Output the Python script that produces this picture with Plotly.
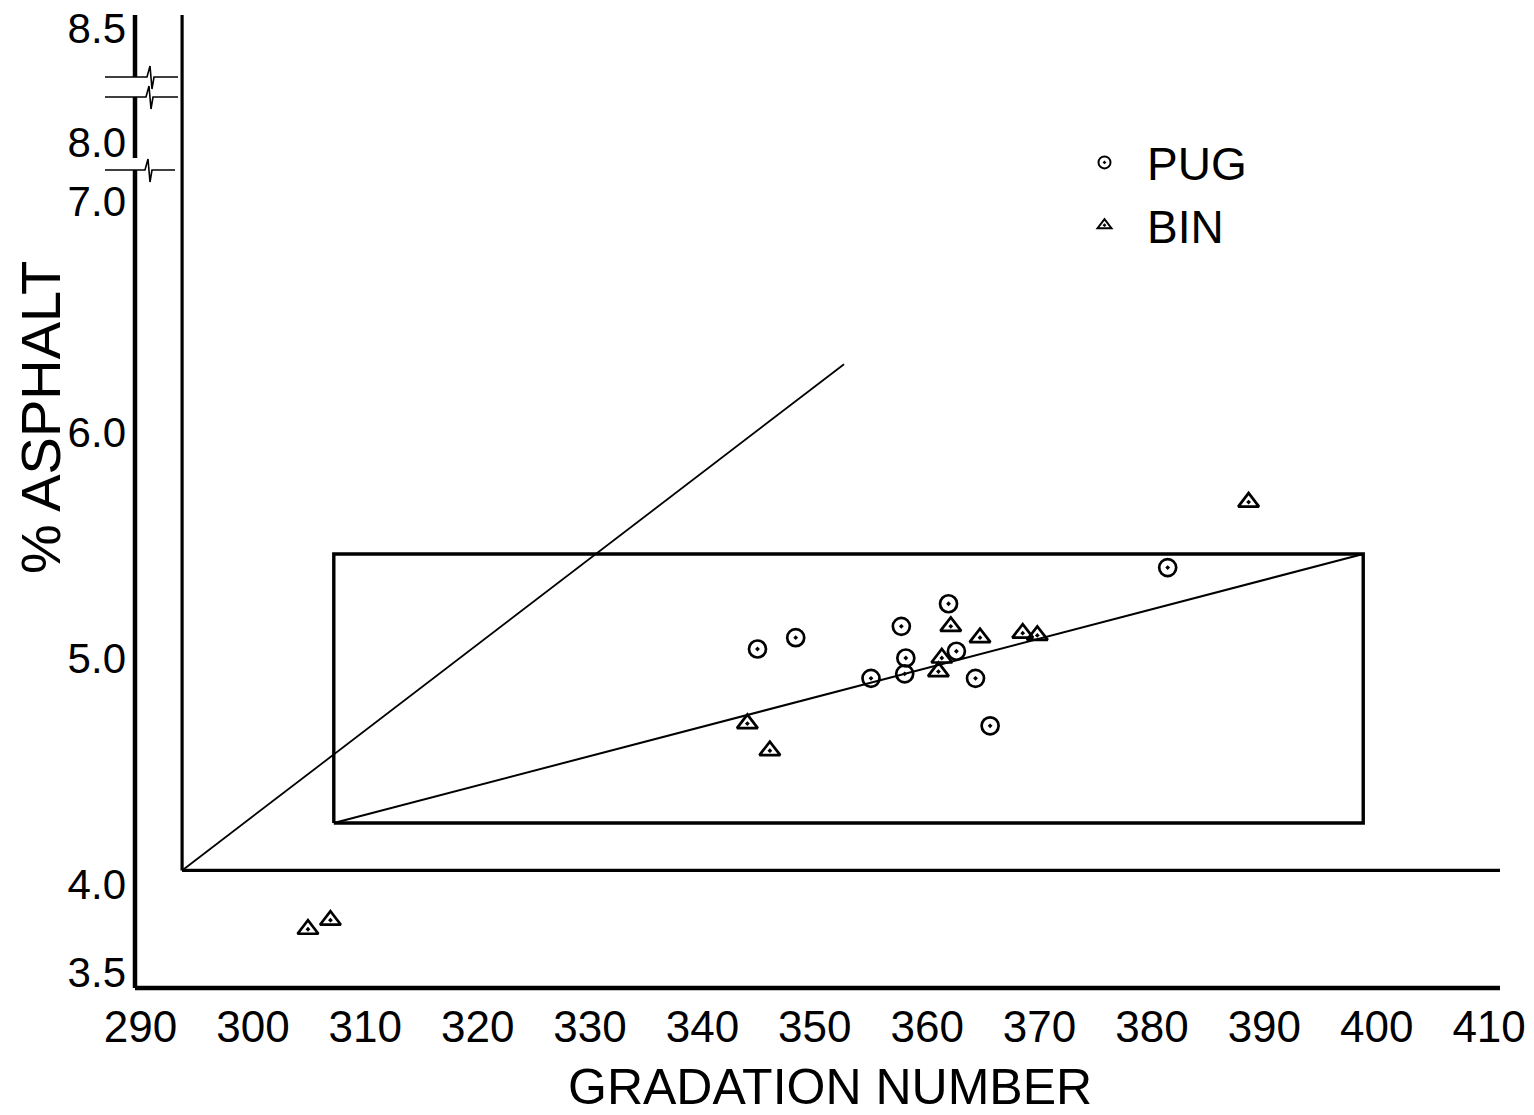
import plotly.graph_objects as go

# ---------------- data ----------------
pug_x = [344.9, 348.3, 361.9, 357.7, 358.1, 355.0, 358.0, 362.6, 364.3, 365.6, 381.4]
pug_y = [5.04, 5.09, 5.24, 5.14, 5.00, 4.91, 4.93, 5.03, 4.91, 4.70, 5.40]

bin_x = [304.9, 306.9, 344.0, 346.0, 361.0, 361.3, 362.1, 364.7, 368.5, 369.8, 388.6]
bin_y = [3.80, 3.84, 4.71, 4.59, 4.94, 5.00, 5.14, 5.09, 5.11, 5.10, 5.69]

# specification box (gradation number limits, % asphalt limits)
rect_x = [307.2, 398.8]
rect_y = [4.27, 5.46]

# inner (offset) axes origin
inner_x0 = 293.7
inner_y0 = 4.06

# steep line from the inner origin
line1_x = [293.7, 352.6]
line1_y = [4.06, 6.30]

x_tick_vals = [290, 300, 310, 320, 330, 340, 350, 360, 370, 380, 390, 400, 410]
x_tick_text = ["290", "300", "310", "320", "330", "340", "350", "360", "370", "380", "390", "400", "410"]
# broken axis: labels above 7.0 sit at display positions
y_tick_text = ["3.5", "4.0", "5.0", "6.0", "7.0", "8.0", "8.5"]
y_tick_pos = [3.61, 4.0, 5.0, 6.0, 7.02, 7.28, 7.785]

X_RANGE = [289.51, 410.97]
Y_RANGE = [3.54, 7.845]

FONT = "Liberation Sans"
W, H = 1534, 1115
L, R, T, B = 135, 1500, 15, 988


def pxp(px):
    return (px - L) / (R - L)


def pyp(py):
    return (B - py) / (B - T)


fig = go.Figure()

# inner axes
fig.add_trace(go.Scatter(x=[inner_x0, inner_x0], y=[inner_y0, Y_RANGE[1]], mode="lines",
                         line=dict(color="black", width=3.2), showlegend=False, hoverinfo="skip"))
fig.add_trace(go.Scatter(x=[inner_x0, X_RANGE[1]], y=[inner_y0, inner_y0], mode="lines",
                         line=dict(color="black", width=3.2), showlegend=False, hoverinfo="skip"))

# specification rectangle
fig.add_trace(go.Scatter(x=[rect_x[0], rect_x[1], rect_x[1], rect_x[0], rect_x[0]],
                         y=[rect_y[0], rect_y[0], rect_y[1], rect_y[1], rect_y[0]],
                         mode="lines", line=dict(color="black", width=3.4),
                         showlegend=False, hoverinfo="skip"))
# diagonal of the box
fig.add_trace(go.Scatter(x=rect_x, y=rect_y, mode="lines",
                         line=dict(color="black", width=2), showlegend=False, hoverinfo="skip"))
# steep line
fig.add_trace(go.Scatter(x=line1_x, y=line1_y, mode="lines",
                         line=dict(color="black", width=1.8), showlegend=False, hoverinfo="skip"))

# data points
fig.add_trace(go.Scatter(x=pug_x, y=pug_y, mode="markers", name="PUG",
                         marker=dict(symbol="circle-open-dot", size=17, color="black",
                                     line=dict(color="black", width=2.7))))
fig.add_trace(go.Scatter(x=bin_x, y=bin_y, mode="markers", name="BIN",
                         marker=dict(symbol="triangle-up-open-dot", size=18, color="black",
                                     line=dict(color="black", width=2.7))))

shapes = []
# outer axes (thick), vertical with gaps at the breaks
shapes.append(dict(type="line", xref="paper", yref="paper", x0=0, x1=1, y0=0, y1=0,
                   line=dict(color="black", width=4.5)))
for (a, b) in [(15, 77), (97, 158), (170, 988)]:
    shapes.append(dict(type="line", xref="paper", yref="paper", x0=0, x1=0,
                       y0=pyp(a), y1=pyp(b), line=dict(color="black", width=4.5)))

# axis break marks
for (yy, sx, x_end) in [(77, 148, 178), (97, 147, 178), (170, 146, 175)]:
    pts = [(105, yy), (sx - 1, yy), (sx + 2, yy - 11), (sx + 4, yy + 12), (sx + 6, yy), (x_end, yy)]
    path = "M " + " L ".join(f"{pxp(px):.5f},{pyp(py):.5f}" for px, py in pts)
    shapes.append(dict(type="path", xref="paper", yref="paper", path=path,
                       line=dict(color="black", width=1.6)))

annotations = [
    dict(text="% ASPHALT", xref="paper", yref="paper", x=pxp(40), y=pyp(418),
         textangle=-90, showarrow=False, xanchor="center", yanchor="middle",
         font=dict(family=FONT, size=56, color="black")),
    dict(text="GRADATION NUMBER", xref="paper", yref="paper", x=pxp(830), y=pyp(1087),
         showarrow=False, xanchor="center", yanchor="middle",
         font=dict(family=FONT, size=50, color="black")),
]

fig.update_layout(
    width=W, height=H,
    margin=dict(l=L, r=W - R, t=T, b=H - B, pad=0, autoexpand=False),
    paper_bgcolor="white", plot_bgcolor="white",
    shapes=shapes, annotations=annotations,
    showlegend=True,
    legend=dict(x=pxp(1062), y=pyp(126), xanchor="left", yanchor="top",
                font=dict(family=FONT, size=46, color="black"),
                bgcolor="rgba(0,0,0,0)", itemsizing="constant", tracegroupgap=0,
                itemwidth=75),
    xaxis=dict(range=X_RANGE, showgrid=False, zeroline=False, showline=False,
               tickmode="array", tickvals=x_tick_vals, ticktext=x_tick_text,
               ticks="", ticklabelstandoff=9, automargin=False,
               tickfont=dict(family=FONT, size=44, color="black")),
    yaxis=dict(range=Y_RANGE, showgrid=False, zeroline=False, showline=False,
               tickmode="array", tickvals=y_tick_pos, ticktext=y_tick_text,
               ticks="", ticklabelstandoff=8, automargin=False,
               tickfont=dict(family=FONT, size=42, color="black")),
)

fig.write_html("out.html", config={"displayModeBar": False},
               post_script="document.body.style.margin='0';")
